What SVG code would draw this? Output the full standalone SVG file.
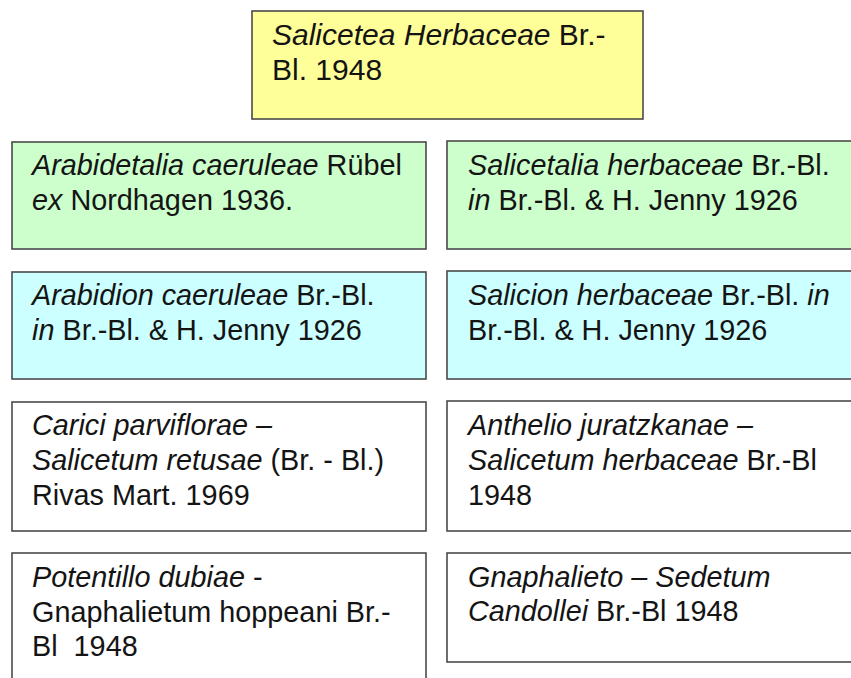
<svg xmlns="http://www.w3.org/2000/svg" width="851" height="678" viewBox="0 0 851 678">
<style>
.box{stroke:#4a4a4a;stroke-width:1.6}
.y{fill:#FFFF99}.g{fill:#CCFFCC}.b{fill:#CCFFFF}.w{fill:#FFFFFF}
text{font-family:"Liberation Sans",Arial,sans-serif;font-size:28.8px;fill:#141414}
.i{font-style:italic}
.t{font-size:30px}
</style>
<rect width="851" height="678" fill="#fff"/>
<g id="connectors"/>
<g id="n-salicetea">
<rect class="box y" x="252" y="11" width="391" height="108"/>
<text class="t" x="272" y="45"><tspan class="i">Salicetea Herbaceae</tspan> Br.-</text>
<text class="t" x="272" y="80">Bl. 1948</text>
</g>
<g id="n-arabidetalia">
<rect class="box g" x="12" y="142" width="414" height="107"/>
<text x="32" y="175"><tspan class="i">Arabidetalia caeruleae</tspan> Rübel</text>
<text x="32" y="210"><tspan class="i">ex</tspan> Nordhagen 1936.</text>
</g>
<g id="n-salicetalia">
<rect class="box g" x="447" y="141" width="420" height="108"/>
<text x="468" y="175"><tspan class="i">Salicetalia herbaceae</tspan> Br.-Bl.</text>
<text x="468" y="210"><tspan class="i">in</tspan> Br.-Bl. &amp; H. Jenny 1926</text>
</g>
<g id="n-arabidion">
<rect class="box b" x="12" y="272" width="414" height="107"/>
<text x="32" y="305"><tspan class="i">Arabidion caeruleae</tspan> Br.-Bl.</text>
<text x="32" y="340"><tspan class="i">in</tspan> Br.-Bl. &amp; H. Jenny 1926</text>
</g>
<g id="n-salicion">
<rect class="box b" x="447" y="271" width="420" height="108"/>
<text x="468" y="305"><tspan class="i">Salicion herbaceae</tspan> Br.-Bl. <tspan class="i">in</tspan></text>
<text x="468" y="340">Br.-Bl. &amp; H. Jenny 1926</text>
</g>
<g id="n-carici">
<rect class="box w" x="12" y="402" width="414" height="129"/>
<text x="32" y="435" class="i">Carici parviflorae –</text>
<text x="32" y="470"><tspan class="i">Salicetum retusae</tspan> (Br. - Bl.)</text>
<text x="32" y="505">Rivas Mart. 1969</text>
</g>
<g id="n-anthelio">
<rect class="box w" x="447" y="401" width="420" height="130"/>
<text x="468" y="435" class="i">Anthelio juratzkanae –</text>
<text x="468" y="470"><tspan class="i">Salicetum herbaceae</tspan> Br.-Bl</text>
<text x="468" y="505">1948</text>
</g>
<g id="n-potentillo">
<rect class="box w" x="12" y="553" width="414" height="140"/>
<text x="32" y="587"><tspan class="i">Potentillo dubiae</tspan> -</text>
<text x="32" y="622">Gnaphalietum hoppeani Br.-</text>
<text x="32" y="656" xml:space="preserve">Bl  1948</text>
</g>
<g id="n-gnaphalieto">
<rect class="box w" x="447" y="553" width="420" height="109"/>
<text x="468" y="587" class="i">Gnaphalieto – Sedetum</text>
<text x="468" y="621"><tspan class="i">Candollei</tspan> Br.-Bl 1948</text>
</g>
</svg>
